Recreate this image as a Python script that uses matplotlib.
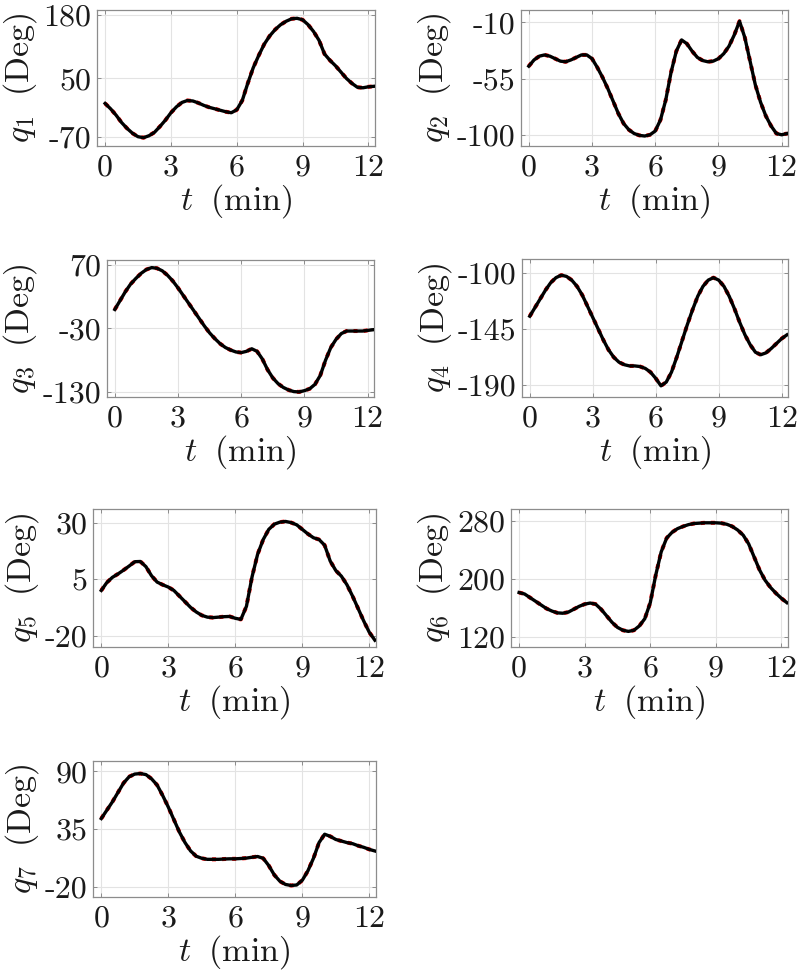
import numpy as np
import matplotlib
matplotlib.use("Agg")
import matplotlib.pyplot as plt

# -------------------
# DATA (degrees vs minutes)
# -------------------
t = [0.0, 0.25, 0.5, 0.75, 1.0, 1.25, 1.5, 1.75, 2.0, 2.25,
     2.5, 2.75, 3.0, 3.25, 3.5, 3.75, 4.0, 4.25, 4.5, 4.75,
     5.0, 5.25, 5.5, 5.75, 6.0, 6.25, 6.5, 6.75, 7.0, 7.25,
     7.5, 7.75, 8.0, 8.25, 8.5, 8.75, 9.0, 9.25, 9.5, 9.75,
     10.0, 10.25, 10.5, 10.75, 11.0, 11.25, 11.5, 11.75, 12.0, 12.25]

q1 = [-1, -12, -25, -40, -52, -62, -69, -71, -67, -60,
      -48, -35, -20, -8, 1, 5, 4, 0, -5, -9,
      -12, -15, -18, -20, -14, 5, 40, 72, 97, 120,
      137, 150, 160, 167, 172, 173, 170, 160, 146, 128,
      100, 87, 76, 63, 50, 40, 32, 31, 33, 34]

q2 = [-45, -40, -37, -36, -37, -39, -41, -41.5, -40, -38,
      -36, -36, -39, -46, -54, -63, -73, -83, -91, -96,
      -99, -100.5, -101, -100, -97, -88, -72, -50, -33, -24,
      -27, -33, -38, -40.5, -41.5, -41, -39, -35, -29, -20,
      -9, -22, -41, -60, -74, -85, -93, -99, -100, -99]

q3 = [0, 14, 28, 40, 49, 57, 63, 66, 65, 61,
      54, 45, 34, 22, 10, -2, -14, -26, -37, -46,
      -54, -60, -64, -67, -68, -66, -62, -66, -78, -95,
      -108, -117, -123, -127, -129.5, -130, -128, -125, -118, -104,
      -80, -60, -47, -38, -34, -34, -34, -34, -33, -32]

q4 = [-135, -128, -121, -114, -108, -104, -102, -103, -106, -111,
      -118, -127, -136, -145, -154, -162, -168, -172, -174, -175,
      -175, -175.5, -177, -180, -185, -191, -188, -180, -168, -155,
      -142, -130, -119, -111, -106, -104, -106, -111, -119, -129,
      -140, -150, -158, -164, -166, -164.5, -161, -157, -153, -150]

q5 = [0, 3.5, 5.8, 7.3, 9, 10.8, 12.7, 12.8, 10.5, 6.5,
      3.7, 2.5, 1.5, 0, -2.5, -5, -7.5, -9.5, -11, -11.8,
      -12, -11.8, -11.6, -11.5, -12.3, -12.8, -7, 6, 16, 22.5,
      27, 29.3, 30.2, 30.5, 30, 29, 27, 25, 23.3, 22.5,
      20, 13, 8.8, 6.3, 2.5, -2.5, -8, -13.5, -18.5, -22]

q6 = [181, 179, 174, 169, 164, 159, 155.5, 153, 152.5, 154,
      158, 162, 165, 166.5, 165, 158, 149, 140, 133, 129,
      127.5, 129, 135, 145, 167, 205, 237, 256, 264, 269,
      272, 274.5, 276, 276.5, 277, 277, 277, 276.5, 275, 272,
      267, 260, 248, 230, 212, 198, 188, 180, 173, 167]

q7 = [45, 53, 61, 70, 79, 85, 87.5, 88, 87, 83,
      77, 67, 56, 44, 32, 22, 14, 9, 7, 6,
      6, 6, 6.3, 6.5, 6.5, 6.8, 7.2, 8, 8.7, 7,
      0, -9, -15, -18, -19, -18.5, -14, -5, 7, 22,
      30, 28, 25, 23.5, 22, 21, 19, 17.5, 15.5, 14]

x_ticks = [0, 3, 6, 9, 12]
y_ticks = [
    [-70, 50, 180],
    [-100, -55, -10],
    [-130, -30, 70],
    [-190, -145, -100],
    [-20, 5, 30],
    [120, 200, 280],
    [-20, 35, 90],
]
y_limits = [
    (-88, 190),
    (-109, 0),
    (-138, 78),
    (-200, -89),
    (-25, 36),
    (106, 296),
    (-30, 100),
]

series = [q1, q2, q3, q4, q5, q6, q7]

# axes boxes in pixels: left, right, top, bottom (figure is 800x972)
boxes = [
    (97, 375, 10, 146),
    (521, 788, 10, 146),
    (107, 374, 260, 397),
    (522, 788, 259, 397),
    (93, 376, 509, 647),
    (511, 788, 509, 647),
    (93, 376, 761, 897),
]

W, H = 800, 972

plt.rcParams["mathtext.fontset"] = "cm"
plt.rcParams["font.family"] = ["cmr10", "DejaVu Serif"]
plt.rcParams["axes.unicode_minus"] = False
plt.rcParams["axes.formatter.use_mathtext"] = True

fig = plt.figure(figsize=(W / 100, H / 100), dpi=100)

for i, q in enumerate(series):
    l, r, top, bot = boxes[i]
    ax = fig.add_axes([l / W, 1 - bot / H, (r - l) / W, (bot - top) / H])

    # reference (red, dotted) under the measured joint angle (black)
    ax.plot(t, q, color="red", lw=2.9, ls=(0, (1, 1.5)), zorder=2)
    ax.plot(t, q, color="black", lw=2.4, zorder=3)

    ax.set_xlim(-0.37, 12.3)
    ax.set_ylim(*y_limits[i])
    ax.set_xticks(x_ticks)
    ax.set_xticklabels([str(v) for v in x_ticks])
    ax.set_yticks(y_ticks[i])
    ax.set_yticklabels([str(v) for v in y_ticks[i]])

    ax.grid(True, color="#e3e3e3", lw=0.8)
    ax.set_axisbelow(True)
    for s in ax.spines.values():
        s.set_color("#8c8c8c")
        s.set_linewidth(0.9)
    ax.tick_params(direction="in", length=3, width=0.7, color="#8c8c8c",
                   top=True, right=True, labelsize=23, labelcolor="#1a1a1a")
    ax.tick_params(axis="x", pad=6)
    ax.tick_params(axis="y", pad=4)

    ax.set_xlabel(r"$t\;\ (\mathrm{min})$", fontsize=24.5, labelpad=0, color="#1a1a1a")
    ax.set_ylabel(r"$q_{%d}\;\ (\mathrm{Deg})$" % (i + 1), fontsize=24.5, labelpad=3,
                  color="#1a1a1a")

fig.savefig("out.png", dpi=100)
